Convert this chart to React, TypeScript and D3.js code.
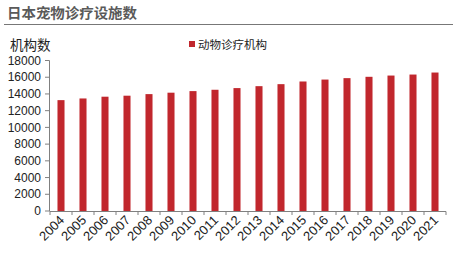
import React from "react";
import * as d3 from "d3";

const years = ["2004","2005","2006","2007","2008","2009","2010","2011","2012","2013","2014","2015","2016","2017","2018","2019","2020","2021"];
const facilities = [13260,13460,13670,13790,13980,14150,14340,14500,14700,14930,15170,15490,15720,15890,16050,16200,16320,16560];
const yTicks = [0,2000,4000,6000,8000,10000,12000,14000,16000,18000];
const seriesName = "动物诊疗机构";
const yTitle = "机构数";
const chartTitle = "日本宠物诊疗设施数";

const W = 453, H = 253;
const barColor = "#c1272d";
const axisColor = "#808080";
const textColor = "#222";

export default function App() {
  const x = d3.scaleBand<string>().domain(years).range([50, 446]).paddingInner(0.68).paddingOuter(0.34);
  const y = d3.scaleLinear().domain([0, 18000]).range([211, 60.5]);
  const step = x.step();
  const num = "Arial, 'Liberation Sans', sans-serif";
  const cjk = "'Noto Sans CJK SC', sans-serif";
  return (
    <svg width={W} height={H} style={{ position: "absolute", left: 0, top: 0 }}>
      <rect x={0} y={0} width={W} height={H} fill="#fff" />
      <text x={7} y={18} fontFamily={cjk} fontWeight={700} fontSize={14} fill="#5a5a5a" textLength={130} lengthAdjust="spacingAndGlyphs">{chartTitle}</text>
      <line x1={4} x2={W} y1={24.5} y2={24.5} stroke="#777" strokeWidth={1.2} />
      <text x={10} y={50} fontFamily={cjk} fontSize={13.5} fill={textColor}>{yTitle}</text>
      <rect x={189} y={41} width={6} height={6} fill={barColor} />
      <text x={198} y={49} fontFamily={cjk} fontSize={11.5} fill={textColor}>{seriesName}</text>
      {facilities.map((v, i) => (
        <rect key={years[i]} x={x(years[i])!} y={y(v)} width={x.bandwidth()} height={y(0) - y(v)} fill={barColor} />
      ))}
      <line x1={49.5} x2={49.5} y1={y(18000)} y2={y(0)} stroke={axisColor} strokeWidth={1} />
      {yTicks.map(t => (
        <g key={t}>
          <line x1={45} x2={49.5} y1={y(t)} y2={y(t)} stroke={axisColor} />
          <text x={41} y={y(t)} dy="0.35em" textAnchor="end" fontFamily={num} fontSize={12} fill={textColor}>{t}</text>
        </g>
      ))}
      <line x1={49.5} x2={446} y1={211.5} y2={211.5} stroke={axisColor} strokeWidth={1} />
      {years.map((yr, i) => {
        const tx = 50 + i * step;
        return <line key={"t" + yr} x1={tx} x2={tx} y1={211.5} y2={215} stroke={axisColor} />;
      }).concat([<line key="tlast" x1={446} x2={446} y1={211.5} y2={215} stroke={axisColor} />])}
      {years.map(yr => {
        const cx = x(yr)! + x.bandwidth() / 2 + 4;
        return (
          <text key={"l" + yr} transform={`translate(${cx},${221}) rotate(-45)`} textAnchor="end" fontFamily={num} fontSize={13} fill={textColor}>{yr}</text>
        );
      })}
    </svg>
  );
}
